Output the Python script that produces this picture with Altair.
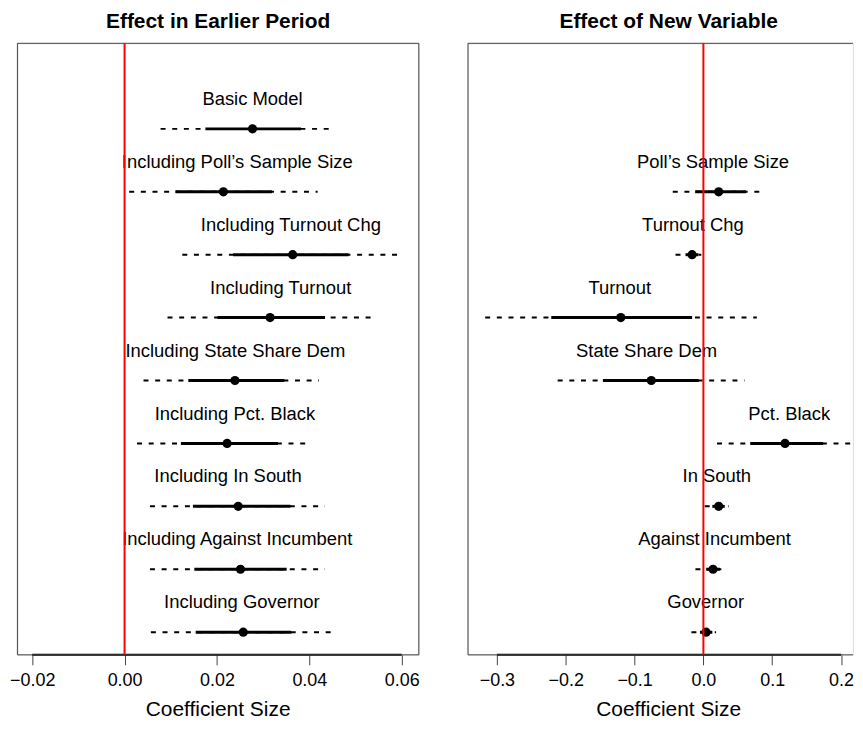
import altair as alt
import pandas as pd

FONT = "Liberation Sans"

# ---------------- Left panel: effect in earlier period ----------------
left_title = "Effect in Earlier Period"
left_labels = ["Basic Model", "Including Poll’s Sample Size", "Including Turnout Chg",
               "Including Turnout", "Including State Share Dem", "Including Pct. Black",
               "Including In South", "Including Against Incumbent", "Including Governor"]
left_rows = [9, 8, 7, 6, 5, 4, 3, 2, 1]
left_est = [0.0277, 0.0214, 0.0364, 0.0315, 0.0239, 0.0222, 0.0246, 0.0251, 0.0257]
left_lo95 = [0.0078, 0.0010, 0.0125, 0.0093, 0.0041, 0.0027, 0.0055, 0.0055, 0.0057]
left_hi95 = [0.0456, 0.0418, 0.0603, 0.0537, 0.0421, 0.0405, 0.0434, 0.0434, 0.0458]
left_lo68 = [0.0175, 0.0110, 0.0235, 0.0201, 0.0138, 0.0122, 0.0148, 0.0151, 0.0154]
left_hi68 = [0.0382, 0.0319, 0.0485, 0.0434, 0.0346, 0.0332, 0.0359, 0.0351, 0.0361]
left_label_x = [0.0277, 0.0244, 0.0360, 0.0338, 0.0240, 0.0239, 0.0224, 0.0244, 0.0254]
left_ticks = [-0.02, 0.00, 0.02, 0.04, 0.06]
left_domain = [-0.0232, 0.0637]

# ---------------- Right panel: effect of new variable ----------------
right_title = "Effect of New Variable"
right_labels = ["Poll’s Sample Size", "Turnout Chg", "Turnout", "State Share Dem",
                "Pct. Black", "In South", "Against Incumbent", "Governor"]
right_rows = [8, 7, 6, 5, 4, 3, 2, 1]
right_est = [0.0222, -0.0164, -0.1200, -0.0757, 0.1186, 0.0222, 0.0140, 0.0039]
right_lo95 = [-0.0445, -0.0405, -0.3170, -0.2117, 0.0198, 0.0019, -0.0116, -0.0174]
right_hi95 = [0.0840, -0.0030, 0.0777, 0.0598, 0.2200, 0.0366, 0.0260, 0.0184]
right_lo68 = [-0.0120, -0.0260, -0.2210, -0.1460, 0.0680, 0.0130, 0.0040, -0.0050]
right_hi68 = [0.0620, -0.0070, -0.0164, -0.0068, 0.1740, 0.0310, 0.0240, 0.0130]
right_label_x = [0.0140, -0.0152, -0.1215, -0.0825, 0.1247, 0.0195, 0.0162, 0.0033]
right_ticks = [-0.3, -0.2, -0.1, 0.0, 0.1, 0.2]
right_domain = [-0.342, 0.2172]

x_title = "Coefficient Size"
zero_line = [0.0]
y_domain = [0.64, 10.36]

HEIGHT = 614
TITLE_X = 201.5


def panel(labels, rows, est, lo95, hi95, lo68, hi68, label_x, ticks, domain,
          width, title, fmt, right_border):
    df = pd.DataFrame({"label": labels, "row": rows, "est": est, "lo95": lo95,
                       "hi95": hi95, "lo68": lo68, "hi68": hi68, "lx": label_x})
    xs = alt.Scale(domain=domain, nice=False, zero=False)
    ys = alt.Scale(domain=y_domain, nice=False, zero=False)
    xaxis = alt.Axis(values=ticks, format=fmt, domain=False, grid=False,
                     tickColor="#444444", tickWidth=1, tickSize=10,
                     labelFont=FONT, labelFontSize=18, labelColor="black",
                     labelPadding=7, labelFlush=False, title=None)

    def X(field):
        return alt.X(field, scale=xs, axis=xaxis)

    yenc = alt.Y("row:Q", scale=ys, axis=None)
    base = alt.Chart(df)

    axis_line = alt.Chart(pd.DataFrame({"lo": [min(ticks)], "hi": [max(ticks)]})).mark_rule(
        color="black", strokeWidth=2).encode(
        x=X("lo:Q"), x2="hi:Q", y=alt.value(HEIGHT))
    dashed = base.mark_rule(color="black", strokeWidth=2, strokeDash=[5, 6.7],
                            clip=True).encode(
        x=X("lo95:Q"), x2="hi95:Q", y=yenc)
    solid = base.mark_rule(color="black", strokeWidth=3, clip=True).encode(
        x=X("lo68:Q"), x2="hi68:Q", y=yenc)
    points = base.mark_circle(color="black", opacity=1, size=85).encode(
        x=X("est:Q"), y=yenc)
    text = base.mark_text(font=FONT, fontSize=18.5, color="black", align="center",
                          baseline="alphabetic", dy=-24).encode(
        x=X("lx:Q"), y=yenc, text="label:N")
    zero = alt.Chart(pd.DataFrame({"z": zero_line})).mark_rule(
        color="#ff0000", strokeWidth=2).encode(
        x=X("z:Q"), y=alt.value(0), y2=alt.value(HEIGHT))

    one = alt.Chart(pd.DataFrame({"a": [0]}))
    frame = [
        one.mark_rule(color="#444444", strokeWidth=1).encode(
            x=alt.value(0), x2=alt.value(width), y=alt.value(0)),
        one.mark_rule(color="#444444", strokeWidth=1).encode(
            x=alt.value(0), y=alt.value(0), y2=alt.value(HEIGHT)),
        one.mark_rule(color="#444444", strokeWidth=1).encode(
            x=alt.value(0), x2=alt.value(width), y=alt.value(HEIGHT)),
    ]
    if right_border:
        frame.append(one.mark_rule(color="#444444", strokeWidth=1).encode(
            x=alt.value(width), y=alt.value(0), y2=alt.value(HEIGHT)))

    texts = alt.Chart(pd.DataFrame({"t": [title], "x": [x_title]}))
    main_title = texts.mark_text(font=FONT, fontSize=21, fontWeight="bold", color="black",
                                 align="center", baseline="alphabetic").encode(
        text="t:N", x=alt.value(TITLE_X), y=alt.value(-15))
    axis_title = texts.mark_text(font=FONT, fontSize=21, color="black",
                                 align="center", baseline="alphabetic").encode(
        text="x:N", x=alt.value(TITLE_X), y=alt.value(HEIGHT + 61))

    return alt.layer(axis_line, dashed, solid, points, text, zero, *frame,
                     main_title, axis_title).properties(width=width, height=HEIGHT)


left = panel(left_labels, left_rows, left_est, left_lo95, left_hi95, left_lo68,
             left_hi68, left_label_x, left_ticks, left_domain, 403,
             left_title, ".2f", True)
right = panel(right_labels, right_rows, right_est, right_lo95, right_hi95, right_lo68,
              right_hi68, right_label_x, right_ticks, right_domain, 386.5,
              right_title, ".1f", False)

chart = alt.hconcat(left, right, spacing=47.4).properties(
    padding={"left": 0.45, "top": 1, "right": 0, "bottom": 0}
).configure_view(stroke=None).configure(background="white")

chart.save("out.html", embed_options={"renderer": "svg", "actions": False})
